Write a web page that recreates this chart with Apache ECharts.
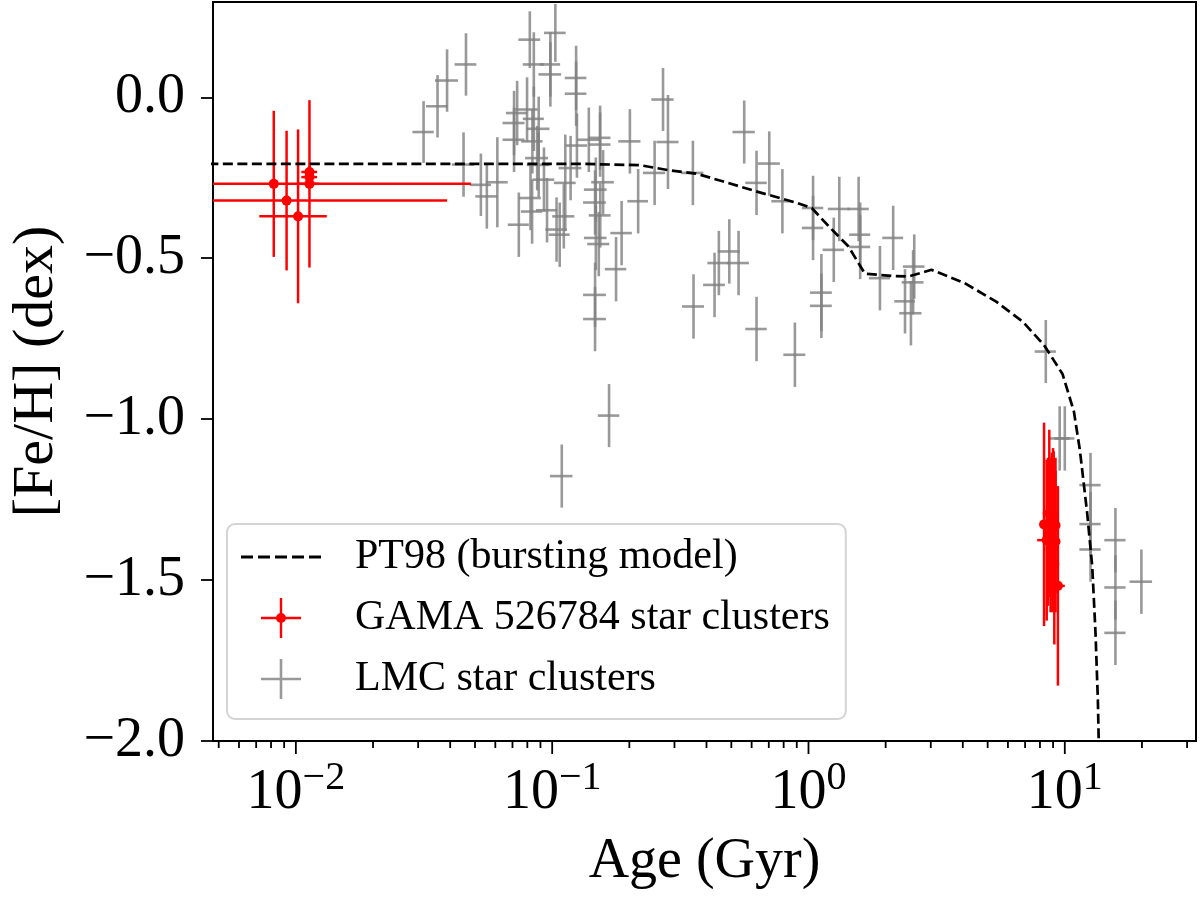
<!DOCTYPE html>
<html>
<head>
<meta charset="utf-8">
<script src="https://cdn.jsdelivr.net/npm/echarts@6.0.0/dist/echarts.min.js"></script>
<style>
html,body{margin:0;padding:0;background:#fff;}
#chart{width:1200px;height:899px;}
</style>
</head>
<body>
<div id="chart"></div>
<script>
// ---------------- data ----------------
const NAME_MODEL = 'PT98 (bursting model)';
const NAME_GAMA = 'GAMA 526784 star clusters';
const NAME_LMC = 'LMC star clusters';

// PT98 bursting model (age in Gyr, [Fe/H])
const modelAge = [0.004, 0.132, 0.22, 0.287, 0.364, 0.462, 0.623, 0.89, 1.03, 1.2, 1.43, 1.66, 2.11, 2.45, 3.02, 4.06, 5.4, 6.85, 8.3, 9.8, 10.85, 11.45, 12.23, 12.8, 13.18, 13.46, 13.6];
const modelFeH = [-0.207, -0.207, -0.211, -0.227, -0.237, -0.261, -0.292, -0.327, -0.344, -0.401, -0.463, -0.548, -0.555, -0.557, -0.536, -0.577, -0.635, -0.697, -0.77, -0.86, -0.976, -1.096, -1.293, -1.459, -1.666, -1.873, -2.05];

// GAMA 526784 star clusters
const gamaAge    = [0.0082, 0.0092, 0.0102, 0.0113, 0.0113, 0.0113,
  8.3, 8.7, 8.9, 8.5, 9.0, 9.2, 9.4, 9.1, 8.6, 8.8, 9.2, 8.95, 9.05];
const gamaFeH    = [-0.269, -0.321, -0.370, -0.269, -0.232, -0.248,
  -1.327, -1.293, -1.324, -1.376, -1.33, -1.38, -1.518, -1.45, -1.35, -1.36, -1.33, -1.40, -1.30];
const gamaAgeErr = [0.040, 0.0297, 0.0030, 0.0010, 0.0008, 0.0008,
  0.3, 0.5, 0.55, 0.7, 0.3, 0.25, 0.6, 0.2, 0.2, 0.2, 0.2, 0.2, 0.15];
const gamaFeHErr = [0.227, 0.217, 0.27, 0.26, 0.02, 0.02,
  0.316, 0.26, 0.22, 0.25, 0.24, 0.22, 0.31, 0.25, 0.23, 0.24, 0.21, 0.20, 0.20];

// LMC star clusters
const lmcAge = [0.0315, 0.0357, 0.0389, 0.0461, 0.0451, 0.0527, 0.0556, 0.0611, 0.0818, 0.1029,
  0.0848, 0.0984, 0.0984, 0.124, 0.124, 0.073, 0.071, 0.0798, 0.0848, 0.0886,
  0.071, 0.0837, 0.0874, 0.0929, 0.0823, 0.0955, 0.104, 0.111, 0.0741, 0.1125,
  0.1249, 0.139, 0.1538, 0.1538, 0.158, 0.148, 0.147, 0.148, 0.147, 0.147,
  0.1667, 0.109, 0.1775, 0.1866, 0.2165, 0.201, 0.2707, 0.283, 0.251, 0.354,
  0.5614, 0.703, 0.627, 0.791, 1.042, 1.042, 1.319, 1.255, 1.569, 1.591,
  1.591, 1.90, 2.14, 2.38, 0.43, 0.447, 0.491, 0.5336, 0.356, 0.627,
  0.885, 1.123, 1.123, 2.586, 2.56, 2.51, 8.43, 9.55, 10.0, 12.6,
  12.6, 12.6, 15.76, 15.76, 15.76, 19.9, 0.0835, 0.107, 0.152, 0.154,
  0.0886, 0.118];
const lmcFeH = [-0.108, -0.028, 0.052, 0.102, -0.209, -0.272, -0.308, -0.264, 0.179, 0.200,
  0.102, 0.071, 0.102, 0.060, 0.011, -0.049, -0.080, -0.038, -0.067, -0.098,
  -0.132, -0.137, -0.189, -0.256, -0.313, -0.351, -0.411, -0.370, -0.396, -0.266,
  -0.150, -0.132, -0.126, -0.147, -0.264, -0.287, -0.327, -0.437, -0.614, -0.689,
  -0.989, -1.177, -0.534, -0.422, -0.323, -0.137, -0.007, -0.139, -0.235, -0.235,
  -0.108, -0.206, -0.266, -0.323, -0.344, -0.406, -0.347, -0.474, -0.347, -0.427,
  -0.465, -0.562, -0.437, -0.634, -0.583, -0.515, -0.479, -0.515, -0.650, -0.720,
  -0.800, -0.607, -0.648, -0.526, -0.575, -0.671, -0.790, -1.060, -1.060, -1.205,
  -1.326, -1.405, -1.376, -1.523, -1.664, -1.505, -0.355, -0.427, -0.456, -0.367,
  -0.210, -0.220];
const lmcAgeErr = [0.003, 0.0035, 0.004, 0.0045, 0.0045, 0.005, 0.0055, 0.006, 0.008, 0.010,
  0.008, 0.010, 0.009, 0.012, 0.012, 0.007, 0.007, 0.008, 0.008, 0.009,
  0.007, 0.008, 0.009, 0.009, 0.008, 0.009, 0.010, 0.011, 0.007, 0.011,
  0.012, 0.014, 0.015, 0.015, 0.016, 0.015, 0.015, 0.015, 0.015, 0.015,
  0.016, 0.011, 0.017, 0.018, 0.020, 0.020, 0.027, 0.028, 0.025, 0.035,
  0.056, 0.070, 0.060, 0.075, 0.10, 0.10, 0.13, 0.12, 0.15, 0.15,
  0.15, 0.18, 0.20, 0.22, 0.042, 0.044, 0.048, 0.052, 0.035, 0.060,
  0.087, 0.11, 0.11, 0.25, 0.25, 0.25, 0.8, 0.9, 0.9, 1.2,
  1.2, 1.2, 1.5, 1.5, 1.5, 2.0, 0.008, 0.010, 0.015, 0.015,
  0.009, 0.012];
const lmcFeHErr = [0.096, 0.097, 0.097, 0.097, 0.10, 0.097, 0.10, 0.14, 0.088, 0.09,
  0.10, 0.10, 0.10, 0.10, 0.10, 0.10, 0.10, 0.10, 0.10, 0.10,
  0.10, 0.10, 0.10, 0.10, 0.10, 0.10, 0.10, 0.10, 0.10, 0.15,
  0.10, 0.10, 0.10, 0.10, 0.10, 0.10, 0.10, 0.10, 0.10, 0.10,
  0.098, 0.098, 0.10, 0.10, 0.10, 0.10, 0.098, 0.146, 0.10, 0.10,
  0.098, 0.10, 0.10, 0.10, 0.10, 0.10, 0.10, 0.10, 0.10, 0.10,
  0.10, 0.10, 0.10, 0.10, 0.10, 0.10, 0.10, 0.10, 0.10, 0.10,
  0.10, 0.12, 0.10, 0.10, 0.10, 0.10, 0.098, 0.10, 0.10, 0.10,
  0.10, 0.10, 0.10, 0.10, 0.10, 0.10, 0.10, 0.10, 0.10, 0.10,
  0.10, 0.10];

// axis ticks
const xMajorTicks = [0.01, 0.1, 1, 10];
const xMinorTicks = [0.005, 0.006, 0.007, 0.008, 0.009,
  0.02, 0.03, 0.04, 0.05, 0.06, 0.07, 0.08, 0.09,
  0.2, 0.3, 0.4, 0.5, 0.6, 0.7, 0.8, 0.9,
  2, 3, 4, 5, 6, 7, 8, 9, 20, 30];
const yTicks = [-2.0, -1.5, -1.0, -0.5, 0.0];

// ---------------- styling ----------------
const FONT = 'Liberation Serif';
const X_MIN = 0.00475, X_MAX = 32.5;
const Y_MIN = -2.0, Y_MAX = 0.296;
const GRAY = 'rgba(128,128,128,0.8)';
const RED = '#ff0000';

function zip4(a, b, c, d) { return a.map((v, i) => [v, b[i], c[i], d[i]]); }

function makeErrRender(color, width, dotR) {
  return function (params, api) {
    const cs = params.coordSys;
    const left = cs.x, right = cs.x + cs.width, top = cs.y, bottom = cs.y + cs.height;
    const x = api.value(0), y = api.value(1), xe = api.value(2), ye = api.value(3);
    const c = api.coord([x, y]);
    const lo = x - xe;
    let xl = lo > 0 ? api.coord([lo, y])[0] : left;
    let xr = api.coord([x + xe, y])[0];
    xl = Math.max(xl, left); xr = Math.min(xr, right);
    let yt = api.coord([x, y + ye])[1];
    let yb = api.coord([x, y - ye])[1];
    yt = Math.max(yt, top); yb = Math.min(yb, bottom);
    const children = [
      { type: 'line', shape: { x1: xl, y1: c[1], x2: xr, y2: c[1] }, style: { stroke: color, lineWidth: width } },
      { type: 'line', shape: { x1: c[0], y1: yt, x2: c[0], y2: yb }, style: { stroke: color, lineWidth: width } }
    ];
    if (dotR) children.push({ type: 'circle', shape: { cx: c[0], cy: c[1], r: dotR }, style: { fill: color } });
    return { type: 'group', children: children };
  };
}

function tickRender(params, api) {
  const cs = params.coordSys;
  const bottom = cs.y + cs.height;
  const p = api.coord([api.value(0), Y_MIN]);
  const len = api.value(2);
  return { type: 'line', shape: { x1: p[0], y1: bottom, x2: p[0], y2: bottom + len }, style: { stroke: '#000', lineWidth: 1.8 } };
}

const tickData = xMajorTicks.map(v => [v, Y_MIN, 13]).concat(xMinorTicks.map(v => [v, Y_MIN, 7]));

const DASH_ICON = 'path://M0,0h12v3h-12z M17,0h12v3h-12z M34,0h12v3h-12z M51,0h12v3h-12z M68,0h12v3h-12z';
const RED_ICON = 'path://M0,18.8h40v2.4h-40z M18.8,0h2.4v40h-2.4z M15,20a5,5 0 1,1 10,0a5,5 0 1,1 -10,0z';
const GRAY_ICON = 'path://M0,18.7h40v2.6h-40z M18.7,0h2.6v40h-2.6z';

const chart = echarts.init(document.getElementById('chart'));
chart.setOption({
  animation: false,
  backgroundColor: '#fff',
  grid: { left: 207, right: 4, top: 2, bottom: 158, show: true, borderColor: '#000', borderWidth: 2, containLabel: false },
  xAxis: {
    type: 'log', logBase: 10, min: X_MIN, max: X_MAX,
    name: 'Age (Gyr)', nameLocation: 'middle', nameGap: 93,
    nameTextStyle: { fontFamily: FONT, fontSize: 56, color: '#000' },
    axisLine: { show: true, onZero: false, lineStyle: { color: '#000', width: 2 } },
    axisTick: { show: false },
    splitLine: { show: false },
    minorTick: { show: false },
    axisLabel: {
      margin: 17,
      formatter: function (v) {
        const k = Math.log10(v);
        const r = Math.round(k);
        if (Math.abs(k - r) > 1e-6) return '';
        return '{b|10}{s|' + (r < 0 ? '\u2212' + (-r) : String(r)) + '}';
      },
      rich: {
        b: { fontFamily: FONT, fontSize: 56, lineHeight: 70, color: '#000' },
        s: { fontFamily: FONT, fontSize: 40, lineHeight: 40, verticalAlign: 'top', color: '#000' }
      }
    }
  },
  yAxis: {
    type: 'value', min: Y_MIN, max: Y_MAX, interval: 0.5,
    name: '[Fe/H] (dex)', nameLocation: 'middle', nameGap: 147,
    nameTextStyle: { fontFamily: FONT, fontSize: 58, color: '#000' },
    axisLine: { show: true, onZero: false, lineStyle: { color: '#000', width: 2 } },
    axisTick: { show: true, length: 12, lineStyle: { color: '#000', width: 1.8 }, customValues: yTicks },
    splitLine: { show: false },
    axisLabel: {
      customValues: yTicks,
      margin: 28, fontFamily: FONT, fontSize: 56, color: '#000',
      formatter: function (v) { return (v < -1e-9 ? '\u2212' : '') + Math.abs(v).toFixed(1); }
    }
  },
  legend: {
    orient: 'vertical', left: 227, top: 524,
    selectedMode: false,
    itemWidth: 80, itemHeight: 40, itemGap: 19,
    padding: [12, 16, 19, 14],
    borderColor: '#d4d4d4', borderWidth: 2, borderRadius: 8,
    backgroundColor: 'rgba(255,255,255,0.85)',
    itemStyle: { borderWidth: 0 },
    formatter: function (n) { return '{t|' + n + '}'; },
    textStyle: {
      fontFamily: FONT, fontSize: 42, color: '#000',
      rich: { t: { fontFamily: FONT, fontSize: 42, color: '#000', padding: [0, 0, 0, 29] } }
    },
    data: [
      { name: NAME_MODEL, icon: DASH_ICON, itemStyle: { color: '#000', borderWidth: 0 } },
      { name: NAME_GAMA, icon: RED_ICON, itemStyle: { color: RED, borderWidth: 0 } },
      { name: NAME_LMC, icon: GRAY_ICON, itemStyle: { color: GRAY, borderWidth: 0 } }
    ]
  },
  series: [
    {
      name: NAME_LMC, type: 'custom', z: 2, silent: true,
      itemStyle: { color: GRAY },
      encode: { x: 0, y: 1 },
      renderItem: makeErrRender(GRAY, 2.6, 0),
      data: zip4(lmcAge, lmcFeH, lmcAgeErr, lmcFeHErr)
    },
    {
      name: NAME_GAMA, type: 'custom', z: 3, silent: true,
      itemStyle: { color: RED },
      encode: { x: 0, y: 1 },
      renderItem: makeErrRender(RED, 2.5, 5),
      data: zip4(gamaAge, gamaFeH, gamaAgeErr, gamaFeHErr)
    },
    {
      name: NAME_MODEL, type: 'line', z: 4, silent: true,
      showSymbol: false, symbol: 'none', clip: true,
      itemStyle: { color: '#000' },
      lineStyle: { color: '#000', width: 2.7, type: [10, 4.5] },
      data: modelAge.map((a, i) => [a, modelFeH[i]])
    },
    {
      name: 'xticks', type: 'custom', z: 6, silent: true, clip: false,
      encode: { x: 0, y: 1 },
      renderItem: tickRender,
      data: tickData
    }
  ]
});
</script>
</body>
</html>
